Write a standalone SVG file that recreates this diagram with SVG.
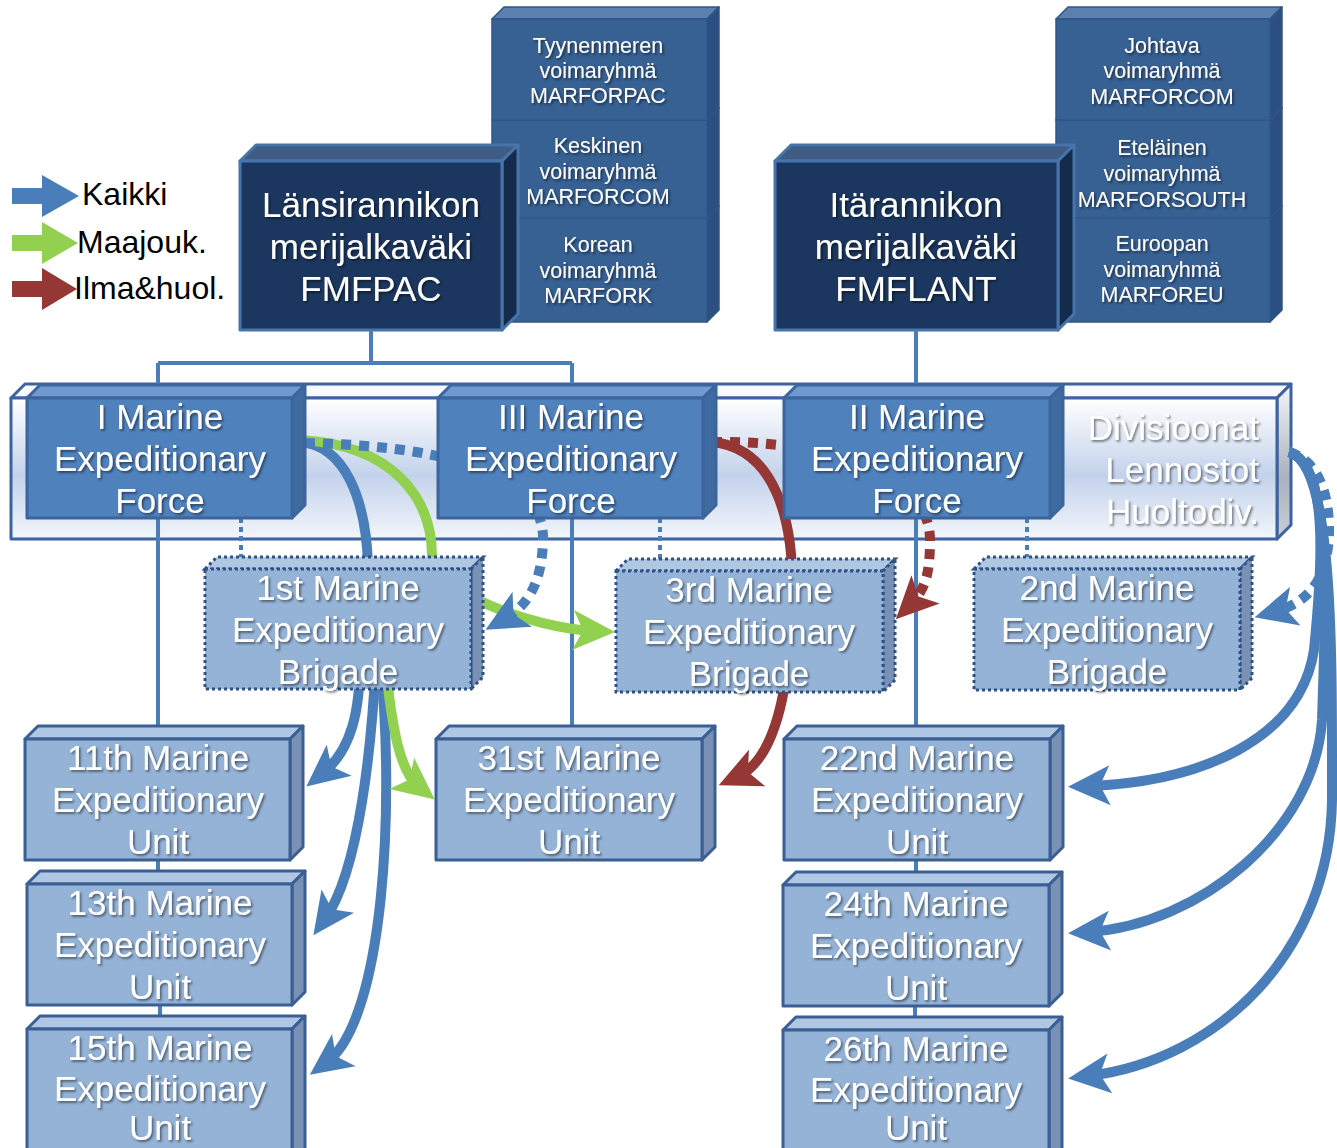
<svg xmlns="http://www.w3.org/2000/svg" width="1337" height="1148" viewBox="0 0 1337 1148">
<defs>
  <filter id="ts" x="-10%" y="-30%" width="130%" height="170%">
    <feDropShadow dx="1.6" dy="1.8" stdDeviation="1.1" flood-color="#000" flood-opacity="0.5"/>
  </filter>
  <linearGradient id="bandg" x1="0" y1="0" x2="0" y2="1">
    <stop offset="0" stop-color="#ffffff"/>
    <stop offset="0.55" stop-color="#c3d2eb"/>
    <stop offset="1" stop-color="#f3f6fb"/>
  </linearGradient>
  <linearGradient id="bands" x1="0" y1="0" x2="0" y2="1">
    <stop offset="0" stop-color="#f4f6f9"/>
    <stop offset="0.6" stop-color="#aab2c0"/>
    <stop offset="1" stop-color="#c8ced8"/>
  </linearGradient>
  <marker id="mb" markerUnits="userSpaceOnUse" markerWidth="60" markerHeight="60" viewBox="-30 -30 60 60" refX="0" refY="0" orient="auto">
    <path d="M20,0 L-22,-20 L-12,0 L-22,20 Z" fill="#4a7ebb"/>
  </marker>
  <marker id="mg" markerUnits="userSpaceOnUse" markerWidth="60" markerHeight="60" viewBox="-30 -30 60 60" refX="0" refY="0" orient="auto">
    <path d="M20,0 L-22,-20 L-12,0 L-22,20 Z" fill="#92d050"/>
  </marker>
  <marker id="mr" markerUnits="userSpaceOnUse" markerWidth="60" markerHeight="60" viewBox="-30 -30 60 60" refX="0" refY="0" orient="auto">
    <path d="M20,0 L-22,-20 L-12,0 L-22,20 Z" fill="#953735"/>
  </marker>
</defs>
<style>
  .t{font-family:"Liberation Sans",Arial,Helvetica,sans-serif;fill:#ffffff;text-anchor:middle;filter:url(#ts)}
  .big{font-size:35px}
  .sm{font-size:21.5px}
  .end{text-anchor:end}
  .leg{font-family:"Liberation Sans",Arial,Helvetica,sans-serif;font-size:32px;fill:#000000}
  .k1 .f{fill:#1c375f}.k1 .tp{fill:#3e5c84}.k1 .sd{fill:#142b4b}
  .k1 rect,.k1 polygon{stroke:#4774ab;stroke-width:3;stroke-linejoin:round}
  .k2 .f{fill:#376093}.k2 .tp{fill:#5b7fae}.k2 .sd{fill:#2b4f80}
  .k2 rect,.k2 polygon{stroke:#2f5587;stroke-width:1.5;stroke-linejoin:round}
  .k3 .f{fill:#4f81bd}.k3 .tp{fill:#7099cf}.k3 .sd{fill:#3f6ba1}
  .k3 rect,.k3 polygon{stroke:#3b659c;stroke-width:3;stroke-linejoin:round}
  .k4 .f{fill:#95b3d7}.k4 .tp{fill:#b0c7e4}.k4 .sd{fill:#7891b4}
  .k4 rect,.k4 polygon{stroke:#3a5f94;stroke-width:3;stroke-linejoin:round}
  .k5 .f{fill:#95b3d7}.k5 .tp{fill:#b0c7e4}.k5 .sd{fill:#7891b4}
  .k5 rect,.k5 polygon{stroke:#2e5186;stroke-width:3;stroke-dasharray:3 3}
  .band .f{fill:url(#bandg)}.band .tp{fill:#f7f9fc}.band .sd{fill:url(#bands)}
  .band rect,.band polygon{stroke:#3d62a0;stroke-width:3;stroke-linejoin:round}
  .ln{fill:none;stroke:#4a7ebb;stroke-width:4}
  .dl{fill:none;stroke:#4a7ebb;stroke-width:4;stroke-dasharray:5 4}
  .ab{fill:none;stroke:#4a7ebb;stroke-width:10}
  .ag{fill:none;stroke:#92d050;stroke-width:10}
  .ar{fill:none;stroke:#953735;stroke-width:10}
  .dash{stroke-dasharray:10 8}
</style>

<!-- Legend -->
<g id="legend">
  <polygon points="12,188 42,188 42,175 79,196 42,217 42,204 12,204" fill="#4a7ebb"/>
  <polygon points="12,235 42,235 42,222 78,243 42,264 42,251 12,251" fill="#92d050"/>
  <polygon points="12,281 42,281 42,268 77,289 42,310 42,297 12,297" fill="#953735"/>
  <text class="leg" x="82" y="205">Kaikki</text>
  <text class="leg" x="77" y="253">Maajouk.</text>
  <text class="leg" x="74" y="299">Ilma&amp;huol.</text>
</g>

<!-- West stack -->
<g id="marforpac_stack" class="k2">
  <polygon class="tp" points="492,218 504,206 719,206 707,218"/>
  <polygon class="sd" points="707,218 719,206 719,310 707,322"/>
  <rect class="f" x="492" y="218" width="215" height="104"/>
  <polygon class="tp" points="492,120 504,108 719,108 707,120"/>
  <polygon class="sd" points="707,120 719,108 719,206 707,218"/>
  <rect class="f" x="492" y="120" width="215" height="98"/>
  <polygon class="tp" points="492,19 504,7 719,7 707,19"/>
  <polygon class="sd" points="707,19 719,7 719,108 707,120"/>
  <rect class="f" x="492" y="19" width="215" height="101"/>
  <text class="t sm" x="598" y="53">Tyynenmeren</text>
  <text class="t sm" x="598" y="78">voimaryhmä</text>
  <text class="t sm" x="598" y="103">MARFORPAC</text>
  <text class="t sm" x="598" y="153">Keskinen</text>
  <text class="t sm" x="598" y="179">voimaryhmä</text>
  <text class="t sm" x="598" y="204">MARFORCOM</text>
  <text class="t sm" x="598" y="252">Korean</text>
  <text class="t sm" x="598" y="278">voimaryhmä</text>
  <text class="t sm" x="598" y="303">MARFORK</text>
</g>

<!-- East stack -->
<g id="marforcom_stack" class="k2">
  <polygon class="tp" points="1056,218 1068,206 1282,206 1270,218"/>
  <polygon class="sd" points="1270,218 1282,206 1282,310 1270,322"/>
  <rect class="f" x="1056" y="218" width="214" height="104"/>
  <polygon class="tp" points="1056,120 1068,108 1282,108 1270,120"/>
  <polygon class="sd" points="1270,120 1282,108 1282,206 1270,218"/>
  <rect class="f" x="1056" y="120" width="214" height="98"/>
  <polygon class="tp" points="1056,19 1068,7 1282,7 1270,19"/>
  <polygon class="sd" points="1270,19 1282,7 1282,108 1270,120"/>
  <rect class="f" x="1056" y="19" width="214" height="101"/>
  <text class="t sm" x="1162" y="53">Johtava</text>
  <text class="t sm" x="1162" y="78">voimaryhmä</text>
  <text class="t sm" x="1162" y="104">MARFORCOM</text>
  <text class="t sm" x="1162" y="155">Eteläinen</text>
  <text class="t sm" x="1162" y="181">voimaryhmä</text>
  <text class="t sm" x="1162" y="207">MARFORSOUTH</text>
  <text class="t sm" x="1162" y="251">Euroopan</text>
  <text class="t sm" x="1162" y="277">voimaryhmä</text>
  <text class="t sm" x="1162" y="302">MARFOREU</text>
</g>

<!-- FMFPAC -->
<g id="fmfpac" class="k1">
  <polygon class="tp" points="240,161 256,145 518,145 502,161"/>
  <polygon class="sd" points="502,161 518,145 518,314 502,330"/>
  <rect class="f" x="240" y="161" width="262" height="169"/>
  <text class="t big" x="371" y="217">Länsirannikon</text>
  <text class="t big" x="371" y="259">merijalkaväki</text>
  <text class="t big" x="371" y="301">FMFPAC</text>
</g>

<!-- FMFLANT -->
<g id="fmflant" class="k1">
  <polygon class="tp" points="775,161 791,145 1074,145 1058,161"/>
  <polygon class="sd" points="1058,161 1074,145 1074,314 1058,330"/>
  <rect class="f" x="775" y="161" width="283" height="169"/>
  <text class="t big" x="916" y="217">Itärannikon</text>
  <text class="t big" x="916" y="259">merijalkaväki</text>
  <text class="t big" x="916" y="301">FMFLANT</text>
</g>

<!-- Band -->
<g id="band" class="band">
  <polygon class="tp" points="11,398 25,384 1291,384 1277,398"/>
  <polygon class="sd" points="1277,398 1291,384 1291,525 1277,539"/>
  <rect class="f" x="11" y="398" width="1266" height="141"/>
  <text class="t big end" x="1259" y="440">Divisioonat</text>
  <text class="t big end" x="1259" y="482">Lennostot</text>
  <text class="t big end" x="1259" y="524">Huoltodiv.</text>
</g>

<!-- Connectors -->
<g id="connectors">
  <path class="ln" d="M371,330 V363 M158,363 H572 M158,363 V398 M572,363 V398 M916,330 V398"/>
  <path class="ln" d="M158,518 V739 M158,860 V884 M160,1005 V1029 M572,518 V739 M916,518 V739 M916,860 V885 M915,1006 V1030"/>
  <path class="dl" d="M241,518 V569 M660,518 V571 M1027,518 V569"/>

  <!-- I MEF -> 1st MEB (blue, green), green continues to 3rd MEB -->
  <path class="ab" d="M300,442 C345,445 366,500 368,565 L370,650"/>
  <path class="ag" marker-end="url(#mg)" d="M300,440 C395,445 432,500 432,556 C432,590 530,628 595,631"/>
  <!-- I MEF -> 1st MEB dotted, behind III MEF -->
  <path class="ab dash" marker-end="url(#mb)" d="M305,443 C420,445 545,465 543,540 C542,580 530,605 503,620"/>

  <!-- 1st MEB -> MEUs -->
  <path class="ab" marker-end="url(#mb)" d="M360,660 C360,710 352,750 322,774"/>
  <path class="ab" marker-end="url(#mb)" d="M376,660 C372,740 360,870 325,919"/>
  <path class="ab" marker-end="url(#mb)" d="M380,660 C395,800 385,1020 326,1063"/>
  <path class="ag" marker-end="url(#mg)" d="M385,660 C392,730 400,772 419,787"/>

  <!-- III MEF -> 3rd MEB -> 31st MEU (red) -->
  <path class="ar" marker-end="url(#mr)" d="M712,442 C775,448 795,520 792,600 C790,690 775,760 737,777"/>
  <!-- III MEF -> 3rd MEB dotted red, behind II MEF -->
  <path class="ar dash" marker-end="url(#mr)" d="M712,442 C820,440 930,470 930,540 C930,575 925,590 910,605"/>

  <!-- Band (II MEF side) -> 2nd MEB dotted, and MEUs -->
  <path class="ab" marker-end="url(#mb)" d="M1289,452 C1330,465 1322,570 1314,650 C1300,740 1200,782 1088,786"/>
  <path class="ab" marker-end="url(#mb)" d="M1289,452 C1332,465 1326,600 1322,720 C1315,830 1200,925 1088,932"/>
  <path class="ab" marker-end="url(#mb)" d="M1289,452 C1334,465 1332,650 1332,800 C1330,950 1220,1060 1088,1076"/>
  <path class="ab dash" marker-end="url(#mb)" d="M1289,452 C1335,465 1332,540 1325,562 C1318,590 1300,605 1274,612"/>
</g>

<!-- MEFs -->
<g id="i_mef" class="k3">
  <polygon class="tp" points="27,398 40,385 305,385 292,398"/>
  <polygon class="sd" points="292,398 305,385 305,505 292,518"/>
  <rect class="f" x="27" y="398" width="265" height="120"/>
  <text class="t big" x="160" y="429">I Marine</text>
  <text class="t big" x="160" y="471">Expeditionary</text>
  <text class="t big" x="160" y="513">Force</text>
</g>
<g id="iii_mef" class="k3">
  <polygon class="tp" points="438,398 451,385 716,385 703,398"/>
  <polygon class="sd" points="703,398 716,385 716,505 703,518"/>
  <rect class="f" x="438" y="398" width="265" height="120"/>
  <text class="t big" x="571" y="429">III Marine</text>
  <text class="t big" x="571" y="471">Expeditionary</text>
  <text class="t big" x="571" y="513">Force</text>
</g>
<g id="ii_mef" class="k3">
  <polygon class="tp" points="784,398 797,385 1063,385 1050,398"/>
  <polygon class="sd" points="1050,398 1063,385 1063,505 1050,518"/>
  <rect class="f" x="784" y="398" width="266" height="120"/>
  <text class="t big" x="917" y="429">II Marine</text>
  <text class="t big" x="917" y="471">Expeditionary</text>
  <text class="t big" x="917" y="513">Force</text>
</g>

<!-- MEBs -->
<g id="meb_1" class="k5">
  <polygon class="tp" points="205,569 217,557 483,557 471,569"/>
  <polygon class="sd" points="471,569 483,557 483,677 471,689"/>
  <rect class="f" x="205" y="569" width="266" height="120"/>
  <text class="t big" x="338" y="600">1st Marine</text>
  <text class="t big" x="338" y="642">Expeditionary</text>
  <text class="t big" x="338" y="684">Brigade</text>
</g>
<g id="meb_3" class="k5">
  <polygon class="tp" points="616,571 628,559 895,559 883,571"/>
  <polygon class="sd" points="883,571 895,559 895,680 883,692"/>
  <rect class="f" x="616" y="571" width="267" height="121"/>
  <text class="t big" x="749" y="602">3rd Marine</text>
  <text class="t big" x="749" y="644">Expeditionary</text>
  <text class="t big" x="749" y="686">Brigade</text>
</g>
<g id="meb_2" class="k5">
  <polygon class="tp" points="974,569 986,557 1252,557 1240,569"/>
  <polygon class="sd" points="1240,569 1252,557 1252,678 1240,690"/>
  <rect class="f" x="974" y="569" width="266" height="121"/>
  <text class="t big" x="1107" y="600">2nd Marine</text>
  <text class="t big" x="1107" y="642">Expeditionary</text>
  <text class="t big" x="1107" y="684">Brigade</text>
</g>

<!-- MEUs -->
<g id="meu_11" class="k4">
  <polygon class="tp" points="25,739 38,726 303,726 290,739"/>
  <polygon class="sd" points="290,739 303,726 303,847 290,860"/>
  <rect class="f" x="25" y="739" width="265" height="121"/>
  <text class="t big" x="158" y="770">11th Marine</text>
  <text class="t big" x="158" y="812">Expeditionary</text>
  <text class="t big" x="158" y="854">Unit</text>
</g>
<g id="meu_13" class="k4">
  <polygon class="tp" points="27,884 40,871 305,871 292,884"/>
  <polygon class="sd" points="292,884 305,871 305,992 292,1005"/>
  <rect class="f" x="27" y="884" width="265" height="121"/>
  <text class="t big" x="160" y="915">13th Marine</text>
  <text class="t big" x="160" y="957">Expeditionary</text>
  <text class="t big" x="160" y="999">Unit</text>
</g>
<g id="meu_15" class="k4">
  <polygon class="tp" points="27,1029 40,1016 305,1016 292,1029"/>
  <polygon class="sd" points="292,1029 305,1016 305,1156 292,1169"/>
  <rect class="f" x="27" y="1029" width="265" height="140"/>
  <text class="t big" x="160" y="1060">15th Marine</text>
  <text class="t big" x="160" y="1101">Expeditionary</text>
  <text class="t big" x="160" y="1140">Unit</text>
</g>
<g id="meu_31" class="k4">
  <polygon class="tp" points="436,739 449,726 715,726 702,739"/>
  <polygon class="sd" points="702,739 715,726 715,847 702,860"/>
  <rect class="f" x="436" y="739" width="266" height="121"/>
  <text class="t big" x="569" y="770">31st Marine</text>
  <text class="t big" x="569" y="812">Expeditionary</text>
  <text class="t big" x="569" y="854">Unit</text>
</g>
<g id="meu_22" class="k4">
  <polygon class="tp" points="784,739 797,726 1063,726 1050,739"/>
  <polygon class="sd" points="1050,739 1063,726 1063,847 1050,860"/>
  <rect class="f" x="784" y="739" width="266" height="121"/>
  <text class="t big" x="917" y="770">22nd Marine</text>
  <text class="t big" x="917" y="812">Expeditionary</text>
  <text class="t big" x="917" y="854">Unit</text>
</g>
<g id="meu_24" class="k4">
  <polygon class="tp" points="783,885 796,872 1062,872 1049,885"/>
  <polygon class="sd" points="1049,885 1062,872 1062,993 1049,1006"/>
  <rect class="f" x="783" y="885" width="266" height="121"/>
  <text class="t big" x="916" y="916">24th Marine</text>
  <text class="t big" x="916" y="958">Expeditionary</text>
  <text class="t big" x="916" y="1000">Unit</text>
</g>
<g id="meu_26" class="k4">
  <polygon class="tp" points="783,1030 796,1017 1062,1017 1049,1030"/>
  <polygon class="sd" points="1049,1030 1062,1017 1062,1157 1049,1170"/>
  <rect class="f" x="783" y="1030" width="266" height="140"/>
  <text class="t big" x="916" y="1061">26th Marine</text>
  <text class="t big" x="916" y="1102">Expeditionary</text>
  <text class="t big" x="916" y="1140">Unit</text>
</g>
</svg>
